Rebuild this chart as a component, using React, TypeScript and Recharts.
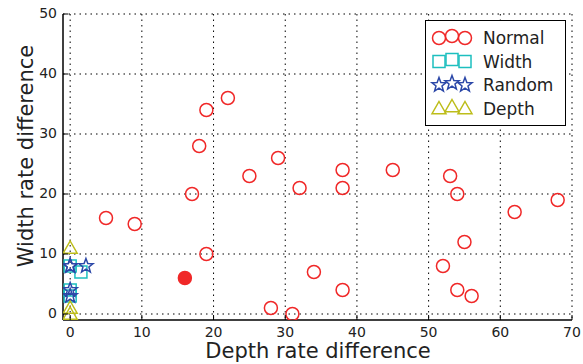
import React from "react";
import {
  CartesianGrid,
  Scatter,
  ScatterChart,
  XAxis,
  YAxis,
} from "recharts";

const normalX = [5, 9, 17, 18, 19, 19, 22, 25, 28, 29, 31, 32, 34, 38, 38, 38, 45, 52, 53, 54, 54, 55, 56, 62, 68];
const normalY = [16, 15, 20, 28, 34, 10, 36, 23, 1, 26, 0, 21, 7, 24, 21, 4, 24, 8, 23, 20, 4, 12, 3, 17, 19];
const highlightX = [16];
const highlightY = [6];
const widthX = [0, 1.5, 0, 0];
const widthY = [8, 7, 4, 3];
const randomX = [0, 2.2, 0, 0, 0];
const randomY = [8, 8, 4, 3, 8];
const depthX = [0, 0, 0];
const depthY = [11, 1, 0];

const xTicks = [0, 10, 20, 30, 40, 50, 60, 70];
const yTicks = [0, 10, 20, 30, 40, 50];

const zip = (xs: number[], ys: number[]) => xs.map((x, i) => ({ x, y: ys[i] }));

const RED = "#f02828";
const CYAN = "#1dbfbf";
const BLUE = "#2c48a8";
const YELLOW = "#bdbd1a";
const FONT = "'DejaVu Sans', sans-serif";

const circleShape = (fill: string) => (p: any) =>
  <circle cx={p.cx} cy={p.cy} r={6.5} fill={fill} stroke={RED} strokeWidth={1.5} />;

const squareShape = (p: any) =>
  <rect x={p.cx - 6} y={p.cy - 6} width={12} height={12} fill="none" stroke={CYAN} strokeWidth={1.5} />;

function starPath(cx: number, cy: number, R: number) {
  const r = R * 0.42;
  let d = "";
  for (let i = 0; i < 10; i++) {
    const a = -Math.PI / 2 + (i * Math.PI) / 5;
    const rr = i % 2 === 0 ? R : r;
    d += (i === 0 ? "M" : "L") + (cx + rr * Math.cos(a)).toFixed(2) + "," + (cy + rr * Math.sin(a)).toFixed(2);
  }
  return d + "Z";
}

const starShape = (p: any) =>
  <path d={starPath(p.cx, p.cy, 7.5)} fill="none" stroke={BLUE} strokeWidth={1.5} />;

const triPath = (cx: number, cy: number, s: number) =>
  `M${cx},${cy - s}L${cx + s},${cy + s * 0.75}L${cx - s},${cy + s * 0.75}Z`;

const triShape = (p: any) =>
  <path d={triPath(p.cx, p.cy, 7)} fill="none" stroke={YELLOW} strokeWidth={1.5} />;

function BottomTick(props: any) {
  const { x, y, payload } = props;
  return (
    <g>
      <line x1={x} y1={y} x2={x} y2={y - 5} stroke="#000" />
      <text x={x} y={y + 17} textAnchor="middle" fontSize={14} fill="#222" fontFamily={FONT}>
        {payload.value}
      </text>
    </g>
  );
}

function LeftTick(props: any) {
  const { x, y, payload } = props;
  return (
    <g>
      <line x1={x} y1={y} x2={x + 5} y2={y} stroke="#000" />
      <text x={x - 6} y={y + 4} textAnchor="end" fontSize={14} fill="#222" fontFamily={FONT}>
        {payload.value}
      </text>
    </g>
  );
}

function TopTick(props: any) {
  const { x, y } = props;
  return <line x1={x} y1={y} x2={x} y2={y + 5} stroke="#000" />;
}

function RightTick(props: any) {
  const { x, y } = props;
  return <line x1={x} y1={y} x2={x - 5} y2={y} stroke="#000" />;
}

const legendItems = [
  { label: "Normal", kind: "circle" },
  { label: "Width", kind: "square" },
  { label: "Random", kind: "star" },
  { label: "Depth", kind: "tri" },
];

function LegendMarker({ kind, cx, cy }: { kind: string; cx: number; cy: number }) {
  if (kind === "circle") return <circle cx={cx} cy={cy} r={6.5} fill="none" stroke={RED} strokeWidth={1.5} />;
  if (kind === "square")
    return <rect x={cx - 6} y={cy - 6} width={12} height={12} fill="none" stroke={CYAN} strokeWidth={1.5} />;
  if (kind === "star") return <path d={starPath(cx, cy, 7.5)} fill="none" stroke={BLUE} strokeWidth={1.5} />;
  return <path d={triPath(cx, cy, 7)} fill="none" stroke={YELLOW} strokeWidth={1.5} />;
}

function LegendBox() {
  return (
    <svg width={141} height={106} style={{ display: "block" }}>
      <rect x={0.5} y={0.5} width={140} height={105} fill="#fff" stroke="#000" />
      {legendItems.map((it, i) => {
        const cy = 18 + i * 23.5;
        return (
          <g key={it.label}>
            {[14, 27, 40].map((cx, j) => (
              <LegendMarker key={j} kind={it.kind} cx={cx} cy={cy + (j === 1 ? -2 : 0)} />
            ))}
            <text x={58} y={cy + 6} fontSize={17} fill="#222" fontFamily={FONT}>
              {it.label}
            </text>
          </g>
        );
      })}
    </svg>
  );
}

export default function App() {
  return (
    <div style={{ position: "absolute", left: 0, top: 0, width: 583, height: 364, background: "#fff" }}>
      <ScatterChart width={583} height={364} margin={{ top: 14, right: 11, bottom: 0, left: 0 }}>
        <CartesianGrid stroke="#000" strokeDasharray="1.5 4" horizontalValues={yTicks} verticalValues={xTicks} />
        <XAxis
          type="number"
          dataKey="x"
          domain={[-1, 70]}
          ticks={xTicks}
          allowDataOverflow
          height={44}
          tickLine={false}
          tickSize={0}
          tickMargin={0}
          axisLine={{ stroke: "#000", strokeWidth: 1.5 }}
          tick={<BottomTick />}
        />
        <XAxis
          xAxisId="top"
          orientation="top"
          type="number"
          dataKey="x"
          domain={[-1, 70]}
          ticks={xTicks}
          allowDataOverflow
          height={0}
          tickLine={false}
          tickSize={0}
          tickMargin={0}
          axisLine={{ stroke: "#000", strokeWidth: 1.5 }}
          tick={<TopTick />}
        />
        <YAxis
          type="number"
          dataKey="y"
          domain={[-1, 50]}
          ticks={yTicks}
          allowDataOverflow
          width={63}
          tickLine={false}
          tickSize={0}
          tickMargin={0}
          axisLine={{ stroke: "#000", strokeWidth: 1.5 }}
          tick={<LeftTick />}
        />
        <YAxis
          yAxisId="right"
          orientation="right"
          type="number"
          dataKey="y"
          domain={[-1, 50]}
          ticks={yTicks}
          allowDataOverflow
          width={0}
          tickLine={false}
          tickSize={0}
          tickMargin={0}
          axisLine={{ stroke: "#000", strokeWidth: 1.5 }}
          tick={<RightTick />}
        />
        <Scatter name="Normal" data={zip(normalX, normalY)} shape={circleShape("none")} isAnimationActive={false} />
        <Scatter name="Normal*" data={zip(highlightX, highlightY)} shape={circleShape(RED)} isAnimationActive={false} />
        <Scatter name="Width" data={zip(widthX, widthY)} shape={squareShape} isAnimationActive={false} />
        <Scatter name="Random" data={zip(randomX, randomY)} shape={starShape} isAnimationActive={false} />
        <Scatter name="Depth" data={zip(depthX, depthY)} shape={triShape} isAnimationActive={false} />
        <text x={318} y={358} textAnchor="middle" fontSize={21} fill="#222" fontFamily={FONT}>
          Depth rate difference
        </text>
        <text
          x={33}
          y={156}
          textAnchor="middle"
          fontSize={21}
          fill="#222"
          fontFamily={FONT}
          transform="rotate(-90 33 156)"
        >
          Width rate difference
        </text>
      </ScatterChart>
      <div style={{ position: "absolute", left: 425, top: 20 }}>
        <LegendBox />
      </div>
    </div>
  );
}
